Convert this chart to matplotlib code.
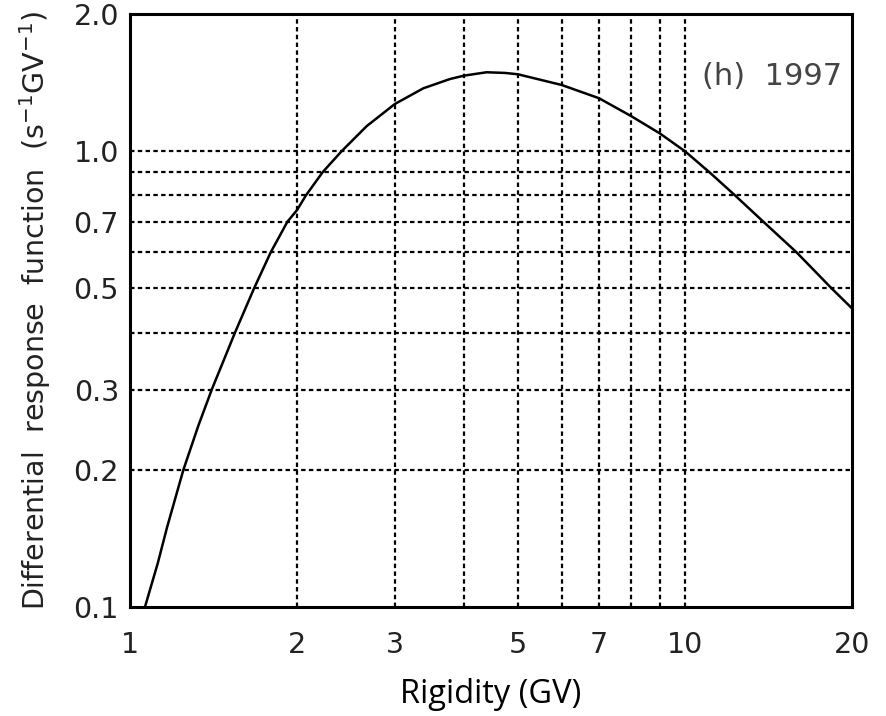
import matplotlib
matplotlib.use("Agg")
import matplotlib.pyplot as plt

# Data (rigidity in GV, response in s^-1 GV^-1)
rigidity = [1.064, 1.122, 1.167, 1.248, 1.328, 1.404, 1.546, 1.673, 1.793, 1.921,
            2.0, 2.075, 2.225, 2.406, 2.67, 3.0, 3.377, 3.772, 4.0, 4.39, 4.74,
            5.0, 6.0, 7.0, 8.0, 9.0, 10.0, 11.06, 12.31, 13.85, 15.89, 18.38, 20.0]
response = [0.100, 0.1247, 0.150, 0.200, 0.250, 0.300, 0.400, 0.500, 0.600, 0.700,
            0.743, 0.800, 0.900, 1.000, 1.135, 1.269, 1.374, 1.440, 1.465, 1.490, 1.485,
            1.475, 1.397, 1.307, 1.194, 1.095, 1.000, 0.900, 0.800, 0.700, 0.600, 0.500, 0.452]

x_ticks = [1, 2, 3, 5, 7, 10, 20]
x_ticklabels = ["1", "2", "3", "5", "7", "10", "20"]
y_ticks = [0.1, 0.2, 0.3, 0.5, 0.7, 1.0, 2.0]
y_ticklabels = ["0.1", "0.2", "0.3", "0.5", "0.7", "1.0", "2.0"]
x_grid = [2, 3, 4, 5, 6, 7, 8, 9, 10]
y_grid = [0.2, 0.3, 0.4, 0.5, 0.6, 0.7, 0.8, 0.9, 1.0]
panel_label = "(h)  1997"

plt.rcParams['mathtext.fontset'] = 'dejavusans'

fig = plt.figure(figsize=(8.87, 7.16), dpi=100)
ax = fig.add_axes([130/887, 1 - 607/716, 722/887, 593/716])

ax.set_xscale('log')
ax.set_yscale('log')
ax.set_xlim(1, 20)
ax.set_ylim(0.1, 2.0)

for gx in x_grid:
    ax.axvline(gx, color='black', lw=1.6, dashes=(2.0, 1.5), zorder=1)
for gy in y_grid:
    ax.axhline(gy, color='black', lw=1.6, dashes=(2.0, 1.5), zorder=1)

ax.plot(rigidity, response, color='black', lw=1.8, zorder=3)

ax.minorticks_off()
ax.set_xticks(x_ticks)
ax.set_xticklabels(x_ticklabels)
ax.set_yticks(y_ticks)
ax.set_yticklabels(y_ticklabels)
ax.tick_params(axis='both', length=0, labelsize=20.5, colors='#222222')
ax.tick_params(axis='x', pad=17)
ax.tick_params(axis='y', pad=8)
for lab in ax.get_xticklabels() + ax.get_yticklabels():
    lab.set_fontfamily('DejaVu Sans')

for sp in ax.spines.values():
    sp.set_linewidth(2.2)
    sp.set_color('black')

ax.set_xlabel("Rigidity (GV)", fontfamily='Open Sans', fontsize=23.5,
              color='black', labelpad=14)
ax.set_ylabel(r"Differential  response  function  (s$^{-1}$GV$^{-1}$)",
              fontfamily='DejaVu Sans', fontsize=20.5, color='#222222',
              labelpad=15)

ax.text(0.986, 0.880, panel_label, transform=ax.transAxes, ha='right',
        va='baseline', fontsize=22, fontfamily='DejaVu Sans', color='#444444')

fig.savefig("out.png", dpi=100)
